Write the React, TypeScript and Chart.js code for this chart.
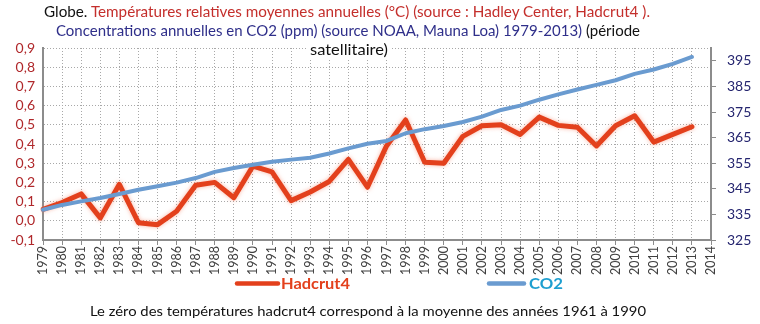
import React, { useEffect, useRef } from "react";
import { Chart, registerables } from "chart.js";

Chart.register(...registerables);

const years: string[] = [
  "1979", "1980", "1981", "1982", "1983", "1984", "1985", "1986", "1987", "1988",
  "1989", "1990", "1991", "1992", "1993", "1994", "1995", "1996", "1997", "1998",
  "1999", "2000", "2001", "2002", "2003", "2004", "2005", "2006", "2007", "2008",
  "2009", "2010", "2011", "2012", "2013", "2014",
];

const hadcrut4: number[] = [
  0.06, 0.095, 0.14, 0.015, 0.19, -0.01, -0.02, 0.05, 0.185, 0.2,
  0.12, 0.285, 0.255, 0.105, 0.15, 0.205, 0.32, 0.175, 0.39, 0.525,
  0.305, 0.3, 0.44, 0.495, 0.5, 0.45, 0.54, 0.497, 0.487, 0.39,
  0.495, 0.547, 0.41, 0.45, 0.49,
];

const co2: number[] = [
  336.8, 338.7, 340.1, 341.4, 343.0, 344.6, 346.0, 347.4, 349.2, 351.6,
  353.1, 354.4, 355.6, 356.4, 357.1, 358.8, 360.8, 362.6, 363.7, 366.7,
  368.3, 369.5, 371.1, 373.2, 375.8, 377.5, 379.8, 381.9, 383.8, 385.6,
  387.4, 389.9, 391.6, 393.8, 396.5,
];

const tempTicks: number[] = [-0.1, 0, 0.1, 0.2, 0.3, 0.4, 0.5, 0.6, 0.7, 0.8, 0.9];
const co2Ticks: number[] = [325, 335, 345, 355, 365, 375, 385, 395];

const FONT = "Lato, 'Open Sans', 'DejaVu Sans', sans-serif";

const glowPlugin = {
  id: "glow",
  beforeDatasetDraw(chart: any, args: any) {
    if (args.meta.label === "Hadcrut4") {
      chart.ctx.save();
      chart.ctx.shadowColor = "rgba(245,120,90,0.55)";
      chart.ctx.shadowBlur = 4;
    }
  },
  afterDatasetDraw(chart: any, args: any) {
    if (args.meta.label === "Hadcrut4") chart.ctx.restore();
  },
};

export default function App() {
  const ref = useRef<HTMLCanvasElement | null>(null);

  useEffect(() => {
    if (!ref.current) return;
    const chart = new Chart(ref.current, {
      type: "line",
      data: {
        labels: years,
        datasets: [
          {
            label: "CO2",
            data: co2,
            yAxisID: "yC",
            borderColor: "#6a9bd0",
            borderWidth: 4,
            pointRadius: 0,
            tension: 0,
            borderJoinStyle: "round",
            borderCapStyle: "round",
            order: 0,
          },
          {
            label: "Hadcrut4",
            data: hadcrut4,
            yAxisID: "yT",
            borderColor: "#e3401c",
            borderWidth: 5,
            pointRadius: 0,
            tension: 0,
            borderJoinStyle: "round",
            borderCapStyle: "round",
            order: 1,
          },
        ],
      },
      options: {
        responsive: false,
        animation: false,
        layout: { padding: { top: 48, left: 0, right: 0, bottom: 0 } },
        plugins: { legend: { display: false }, tooltip: { enabled: false }, title: { display: false } },
        scales: {
          x: {
            type: "category",
            offset: false,
            grid: {
              color: "#a8a8a8",
              lineWidth: 1,
              drawTicks: true,
              tickLength: 5,
              tickColor: "#8c8c8c",
              tickBorderDash: [],
            },
            border: { display: true, color: "#8c8c8c", width: 2, dash: [1, 2] },
            ticks: {
              autoSkip: false,
              maxRotation: 90,
              minRotation: 90,
              padding: 1,
              color: "#404040",
              font: { family: FONT, size: 12.5 },
            },
            afterFit: (s: any) => {
              s.height = 84;
            },
          },
          yT: {
            type: "linear",
            position: "left",
            min: -0.1,
            max: 0.9,
            afterBuildTicks: (s: any) => {
              s.ticks = tempTicks.map((v) => ({ value: v }));
            },
            ticks: {
              autoSkip: false,
              padding: 8,
              color: "#b0282b",
              font: { family: FONT, size: 14 },
              callback: (v: any) => Number(v).toFixed(1).replace(".", ","),
            },
            grid: { color: "#a8a8a8", lineWidth: 1, drawTicks: false },
            border: { display: true, color: "#8c8c8c", width: 2, dash: [1, 2] },
            afterFit: (s: any) => {
              s.width = 43;
            },
          },
          yC: {
            type: "linear",
            position: "right",
            min: 325,
            max: 400,
            afterBuildTicks: (s: any) => {
              s.ticks = co2Ticks.map((v) => ({ value: v }));
            },
            ticks: {
              autoSkip: false,
              padding: 11,
              color: "#25256f",
              font: { family: FONT, size: 14 },
              callback: (v: any) => String(v),
            },
            grid: {
              drawOnChartArea: false,
              drawTicks: true,
              tickLength: 5,
              color: "#8c8c8c",
            },
            border: { display: true, color: "#8c8c8c", width: 2 },
            afterFit: (s: any) => {
              s.width = 49;
            },
          },
        },
      },
      plugins: [glowPlugin],
    } as any);
    return () => chart.destroy();
  }, []);

  return (
    <div style={{ position: "fixed", left: 0, top: 0, width: 760, height: 324, background: "#fff" }}>
      <canvas ref={ref} width={760} height={324} style={{ position: "absolute", left: 0, top: 0 }} />
      <svg
        width={760}
        height={324}
        style={{ position: "absolute", left: 0, top: 0, pointerEvents: "none" }}
        fontFamily={FONT}
      >
        <rect x={306} y={40} width={84} height={19} fill="#fff" />
        <text x={44} y={17} fontSize={15} textLength={606} lengthAdjust="spacingAndGlyphs">
          <tspan fill="#111">Globe. </tspan>
          <tspan fill="#c42f2c">Températures relatives moyennes annuelles (°C) (source : Hadley Center, Hadcrut4 ).</tspan>
        </text>
        <text x={56} y={36} fontSize={15} textLength={584} lengthAdjust="spacingAndGlyphs">
          <tspan fill="#2f2f8a">Concentrations annuelles en CO2 (ppm) (source NOAA, Mauna Loa) 1979-2013)</tspan>
          <tspan fill="#111"> (période</tspan>
        </text>
        <text x={310} y={55} fontSize={15} fill="#111" textLength={78} lengthAdjust="spacingAndGlyphs">
          satellitaire)
        </text>
        <line x1={237} y1={283.5} x2={278} y2={283.5} stroke="#e3401c" strokeWidth={4.5} strokeLinecap="round" />
        <text x={281} y={288.5} fontSize={15} fontWeight="bold" fill="#e3401c" textLength={69} lengthAdjust="spacingAndGlyphs">
          Hadcrut4
        </text>
        <line x1={489} y1={283.5} x2={524} y2={283.5} stroke="#6a9bd0" strokeWidth={4.5} strokeLinecap="round" />
        <text x={529} y={288.5} fontSize={15} fontWeight="bold" fill="#1e9fd0" textLength={34} lengthAdjust="spacingAndGlyphs">
          CO2
        </text>
        <text x={90} y={316} fontSize={14} fill="#111" textLength={556} lengthAdjust="spacingAndGlyphs">
          Le zéro des températures hadcrut4 correspond à la moyenne des années 1961 à 1990
        </text>
      </svg>
    </div>
  );
}
